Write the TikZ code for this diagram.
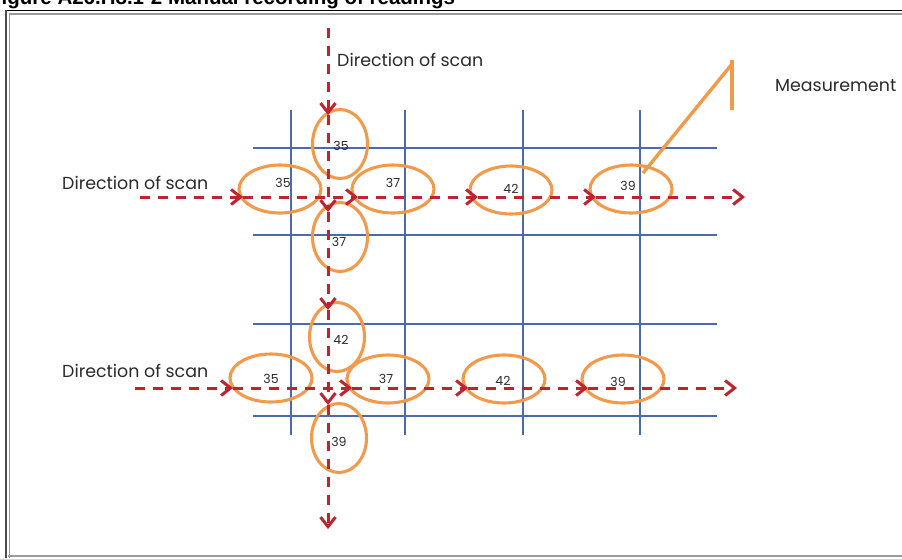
\documentclass[tikz,border=0pt]{standalone}
\usepackage{fontspec}
\setmainfont{Poppins}
\newfontfamily\titlefont{Liberation Sans}
\usetikzlibrary{arrows.meta,shapes.geometric}
\definecolor{scanred}{HTML}{BE2330}
\definecolor{ringorange}{HTML}{F29A4C}
\definecolor{gridblue}{HTML}{4A6AA8}
\definecolor{framegray}{HTML}{9A9A9A}
\definecolor{textgray}{HTML}{2A2A2A}
\begin{document}
\begin{tikzpicture}[x=1pt,y=-1pt,
  scanline/.style={draw=scanred, line width=3pt, dash pattern=on 10pt off 8pt},
  scanarrow/.style={scanline, -{Straight Barb[length=9.5pt,width=15pt,line width=3pt]}},
  gridline/.style={draw=gridblue, line width=1.6pt},
  ring/.style={ellipse, draw=ringorange, line width=3.1pt, inner sep=0pt},
  hring/.style={ring, minimum width=82pt, minimum height=48pt},
  vring/.style={ring, minimum width=55pt, minimum height=69pt},
  num/.style={font=\fontsize{12.5}{13}\selectfont, text=textgray, inner sep=0pt},
  lbl/.style={font=\fontsize{17.4}{18}\selectfont, text=textgray, inner sep=0pt, anchor=west}
]
\useasboundingbox (0,0) rectangle (902,558);
% title (clipped as in the reference)
\node[anchor=base west, inner sep=0pt, font=\titlefont\bfseries\fontsize{20.5}{21}\selectfont] (title) at (-11,4.5) {Figure A26.H8.1-2 Manual recording of readings};
% frame
\draw[black, line width=1.6pt] (6,10.5) -- (902,10.5);
\draw[framegray, line width=2pt] (10,13.5) -- (902,13.5);
\draw[black!70, line width=2.5pt] (6,10) -- (6,558);
\draw[framegray, line width=1.5pt] (9.5,13) -- (9.5,558);
\draw[framegray, line width=2.2pt] (8,556) -- (902,556);

% grid
\foreach \y in {148,235,324,416} \draw[gridline] (253,\y) -- (717,\y);
\foreach \x in {291,405,523,640} \draw[gridline] (\x,110) -- (\x,435);

% rings top group
\node[vring] (v35) at (340,144) {};
\node[vring] (v37) at (340,237) {};
\node[hring] (a35) at (280,189) {};
\node[hring] (a37) at (393,189) {};
\node[hring] (a42) at (511,190) {};
\node[hring] (a39) at (631,189) {};
% rings bottom group
\node[vring] (v42) at (337,337) {};
\node[vring] (v39) at (339,438) {};
\node[hring] (b35) at (271,378) {};
\node[hring] (b37) at (388,379) {};
\node[hring] (b42) at (504,379) {};
\node[hring] (b39) at (623,379) {};

% readings
\node[num] (nv35) at (341,146) {35};
\node[num] (na35) at (283,183) {35};
\node[num] (na37) at (393,183) {37};
\node[num] (nv37) at (339,242) {37};
\node[num] (na42) at (511,189) {42};
\node[num] (na39) at (628,186) {39};
\node[num] (nv42) at (341,340) {42};
\node[num] (nb35) at (271,379) {35};
\node[num] (nb37) at (386,379) {37};
\node[num] (nb42) at (503,381) {42};
\node[num] (nb39) at (618,382) {39};
\node[num] (nv39) at (339,442) {39};

% labels
\node[lbl] (ltop) at (337,60) {Direction of scan};
\node[lbl] (lrow1) at (62,183) {Direction of scan};
\node[lbl] (lrow2) at (62,371) {Direction of scan};
\node[lbl] (lmeas) at (775,86) {Measurement};

% measurement pointer
\coordinate (mtop) at (732,60);
\coordinate (mbot) at (732,110);
\coordinate (mjoin) at (732,64);
\coordinate (mstart) at (643,173);
\draw[ringorange, line width=3.4pt] (mtop) -- (mbot);
\draw[ringorange, line width=3.4pt] (mstart) -- (mjoin);

% vertical scan column
\coordinate (c0) at (328,28);
\coordinate (c1) at (328,115);
\coordinate (c2) at (328,212);
\coordinate (c3) at (328,310);
\coordinate (c4) at (328,405);
\coordinate (c5) at (328,529);
\draw[scanarrow] (c0) -- (c1);
\draw[scanarrow] (c1) -- (c2);
\draw[scanarrow] (c2) -- (c3);
\draw[scanarrow] (c3) -- (c4);
\draw[scanarrow] (c4) -- (c5);

% row 1
\coordinate (r0) at (140,197);
\coordinate (r1) at (243,197);
\coordinate (r2) at (358,197);
\coordinate (r3) at (478,197);
\coordinate (r4) at (596,197);
\coordinate (r5) at (745,197);
\draw[scanarrow] (r0) -- (r1);
\draw[scanarrow] (r1) -- (r2);
\draw[scanarrow] (r2) -- (r3);
\draw[scanarrow] (r3) -- (r4);
\draw[scanarrow] (r4) -- (r5);

% row 2
\coordinate (s0) at (135,388);
\coordinate (s1) at (233,388);
\coordinate (s2) at (352,388);
\coordinate (s3) at (468,388);
\coordinate (s4) at (588,388);
\coordinate (s5) at (737,388);
\draw[scanarrow] (s0) -- (s1);
\draw[scanarrow] (s1) -- (s2);
\draw[scanarrow] (s2) -- (s3);
\draw[scanarrow] (s3) -- (s4);
\draw[scanarrow] (s4) -- (s5);
\end{tikzpicture}
\end{document}
